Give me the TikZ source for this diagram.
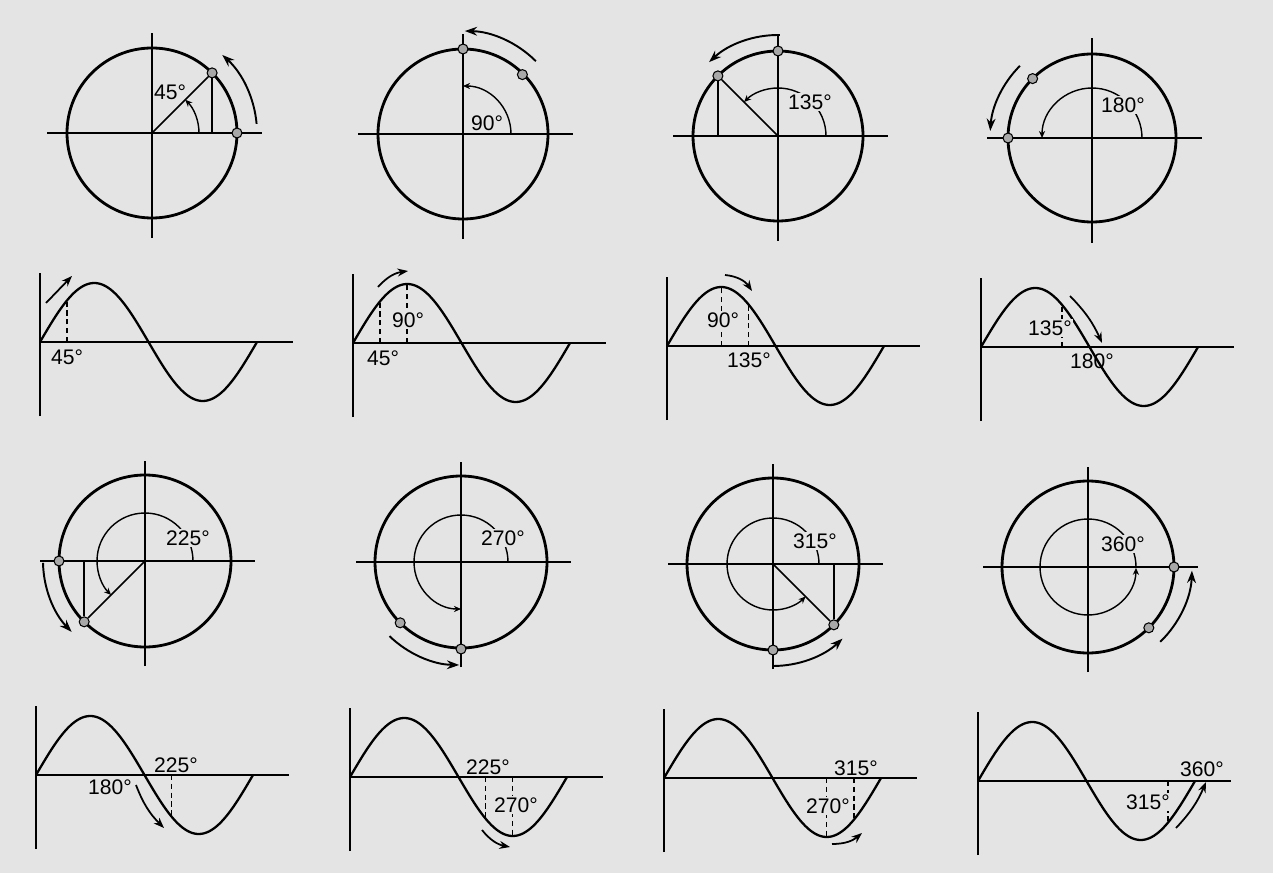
\documentclass[tikz,border=0pt]{standalone}
\usepackage{fontspec}
\setmainfont{Liberation Sans}
\usetikzlibrary{arrows.meta,calc}
\definecolor{paper}{HTML}{E4E4E4}
\definecolor{knobfill}{HTML}{A8A8A8}
\tikzset{
  rim/.style={line width=1.6pt},
  axline/.style={line width=0.8pt},
  spoke/.style={line width=0.9pt},
  drop/.style={line width=0.8pt},
  angmark/.style={line width=0.8pt, -{Stealth[length=4pt,width=3.5pt]}},
  sweep/.style={line width=1.1pt, -{Stealth[length=7pt,width=5pt]}},
  knob/.style={circle, draw, line width=0.6pt, fill=knobfill, inner sep=0pt, minimum size=0.2cm},
  deg/.style={inner sep=0.8pt, font=\fontsize{12}{14}\selectfont},
  wave/.style={line width=1.3pt},
  guide/.style={line width=0.8pt, dash pattern=on 3pt off 2pt},
  travel/.style={line width=1pt, -{Stealth[length=6pt,width=4.5pt]}},
}

\begin{document}
\begin{tikzpicture}[x=0.02cm, y=0.02cm]
  \fill[paper] (0,0) rectangle (1273,873);
  \useasboundingbox (0,0) rectangle (1273,873);

  % phasor circles
  \foreach \n/\cx/\cy/\r in {1/152/740/85, 2/463/739/85, 3/778/737/85, 4/1092/735/84,
                            5/145/312/86, 6/461/311/86, 7/773/309/86, 8/1088/306/86}{
    \coordinate (c\n) at (\cx,\cy);
    \draw[axline] ($(c\n)+(-105,0)$) -- ($(c\n)+(110,0)$);
    \draw[axline] ($(c\n)+(0,-105)$) -- ($(c\n)+(0,100)$);
    \draw[rim] (c\n) circle[radius=\r];
  }

  % sine graphs
  \foreach \n/\ox/\oy in {1/40/531, 2/353/530, 3/667/527, 4/981/526,
                          5/36/98, 6/350/96, 7/664/95, 8/978/92}{
    \coordinate (s\n) at (\ox,\oy);
    \begin{scope}[shift={(s\n)}]
      \draw[axline] (0,-74) -- (0,69);
      \draw[axline] (0,0) -- (253,0);
      \draw[wave] plot[domain=0:217, samples=90, smooth] (\x,{59*sin(\x/217*360)});
    \end{scope}
  }

  % 45
  \begin{scope}[shift={(c1)}]
    \node[knob] (k1a) at (0:85) {};
    \node[knob] (k1b) at (45:85) {};
    \draw[angmark] (47,0) arc[start angle=0, end angle=45, radius=47];
    \draw[sweep] (5:105) arc[start angle=5, end angle=48, radius=105];
    \node[deg] (l1) at (18,41) {45°};
  \end{scope}
  \draw[spoke] (c1) -- (k1b);
  \draw[drop] (k1b) -- (k1b |- c1);

  % 90
  \begin{scope}[shift={(c2)}]
    \draw[angmark] (48,0) arc[start angle=0, end angle=90, radius=48];
    \draw[sweep] (45:103) arc[start angle=45, end angle=89, radius=103];
    \node[deg] (l2) at (24,11) {90°};
    \node[knob] (k2a) at (45:84) {};
    \node[knob] (k2b) at (90:85) {};
  \end{scope}

  % 135
  \begin{scope}[shift={(c3)}]
    \draw[angmark] (48,0) arc[start angle=0, end angle=135, radius=48];
    \draw[sweep] (89:101) arc[start angle=89, end angle=133, radius=101];
    \node[deg, fill=paper] (l3) at (32,34) {135°};
    \node[knob] (k3a) at (90:85) {};
    \node[knob] (k3b) at (135:85) {};
  \end{scope}
  \draw[spoke] (c3) -- (k3b);
  \draw[drop] (k3b) -- (k3b |- c3);

  % 180
  \begin{scope}[shift={(c4)}]
    \draw[angmark] (50,0) arc[start angle=0, end angle=180, radius=50];
    \draw[sweep] (135:102) arc[start angle=135, end angle=176, radius=102];
    \node[deg, fill=paper] (l4) at (31,33) {180°};
    \node[knob] (k4a) at (135:84) {};
    \node[knob] (k4b) at (180:84) {};
  \end{scope}
  \draw[spoke] (c4) -- (k4b);

  % 225
  \begin{scope}[shift={(c5)}]
    \draw[angmark] (48,0) arc[start angle=0, end angle=225, radius=48];
    \draw[sweep] (181:102) arc[start angle=181, end angle=224, radius=102];
    \node[deg, fill=paper] (l5) at (43,23) {225°};
    \node[knob] (k5a) at (180:86) {};
    \node[knob] (k5b) at (225:86) {};
  \end{scope}
  \draw[spoke] (c5) -- (k5b);
  \draw[drop] (k5b) -- (k5b |- c5);

  % 270
  \begin{scope}[shift={(c6)}]
    \draw[angmark] (47,0) arc[start angle=0, end angle=270, radius=47];
    \draw[sweep] (226:103) arc[start angle=226, end angle=269, radius=103];
    \node[deg, fill=paper] (l6) at (42,24) {270°};
    \node[knob] (k6a) at (225:86) {};
    \node[knob] (k6b) at (270:87) {};
  \end{scope}
  \draw[spoke] (c6) -- (k6b);

  % 315
  \begin{scope}[shift={(c7)}]
    \draw[angmark] (46,0) arc[start angle=0, end angle=315, radius=46];
    \draw[sweep] (270:102) arc[start angle=270, end angle=313, radius=102];
    \node[deg, fill=paper] (l7) at (42,23) {315°};
    \node[knob] (k7a) at (270:86) {};
    \node[knob] (k7b) at (315:86) {};
  \end{scope}
  \draw[spoke] (c7) -- (k7b);
  \draw[drop] (k7b) -- (k7b |- c7);

  % 360
  \begin{scope}[shift={(c8)}]
    \draw[angmark] (48,0) arc[start angle=0, end angle=359, radius=48];
    \draw[sweep] (314:104) arc[start angle=314, end angle=358, radius=104];
    \node[deg, fill=paper] (l8) at (35,23) {360°};
    \node[knob] (k8a) at (315:86) {};
    \node[knob] (k8b) at (0:86) {};
  \end{scope}

  % sine marks, top row
  \begin{scope}[shift={(s1)}]
    \draw[guide] (27,0) -- (27,41.7);
    \node[deg] (w1) at (27,-15) {45°};
    \draw[travel] (6,39) -- (32,66);
  \end{scope}
  \begin{scope}[shift={(s2)}]
    \draw[guide] (27,0) -- (27,41.5);
    \draw[guide] (54,0) -- (54,58.7);
    \node[deg, fill=paper] (w2a) at (55,23) {90°};
    \node[deg] (w2b) at (30,-15) {45°};
    \draw[travel] (25,56) to[bend left=20] (55,72);
  \end{scope}
  \begin{scope}[shift={(s3)}]
    \draw[guide] (54.5,0) -- (54.5,59);
    \draw[guide] (81.5,0) -- (81.5,42);
    \node[deg, fill=paper] (w3a) at (56,26) {90°};
    \node[deg] (w3b) at (82,-14) {135°};
    \draw[travel] (58,71) to[bend left=25] (85,55);
  \end{scope}
  \begin{scope}[shift={(s4)}]
    \draw[guide] (81,0) -- (81,42);
    \node[deg, fill=paper] (w4a) at (69,19) {135°};
    \node[deg] (w4b) at (111,-14) {180°};
    \draw[travel] (89,51) to[bend left=10] (121,4);
  \end{scope}

  % sine marks, bottom row
  \begin{scope}[shift={(s5)}]
    \draw[guide] (135.6,0) -- (135.6,-42);
    \node[deg] (w5a) at (140,10) {225°};
    \node[deg] (w5b) at (74,-12) {180°};
    \draw[travel] (100,-10) to[bend right=12] (128,-53);
  \end{scope}
  \begin{scope}[shift={(s6)}]
    \draw[guide] (135.6,0) -- (135.6,-42);
    \draw[guide] (162.7,0) -- (162.7,-59);
    \node[deg] (w6a) at (138,10) {225°};
    \node[deg, fill=paper] (w6b) at (166,-28) {270°};
    \draw[travel] (132,-53) to[bend right=20] (160,-70);
  \end{scope}
  \begin{scope}[shift={(s7)}]
    \draw[guide] (162.7,0) -- (162.7,-59);
    \draw[guide] (189.8,0) -- (189.8,-42);
    \node[deg] (w7a) at (192,10) {315°};
    \node[deg, fill=paper] (w7b) at (164,-28) {270°};
    \draw[travel] (168,-66) to[bend right=20] (198,-55);
  \end{scope}
  \begin{scope}[shift={(s8)}]
    \draw[guide] (189.8,0) -- (189.8,-42);
    \node[deg] (w8a) at (224,12) {360°};
    \node[deg, fill=paper] (w8b) at (170,-21) {315°};
    \draw[travel] (198,-47) to[bend right=10] (228,-1);
  \end{scope}
\end{tikzpicture}
\end{document}
